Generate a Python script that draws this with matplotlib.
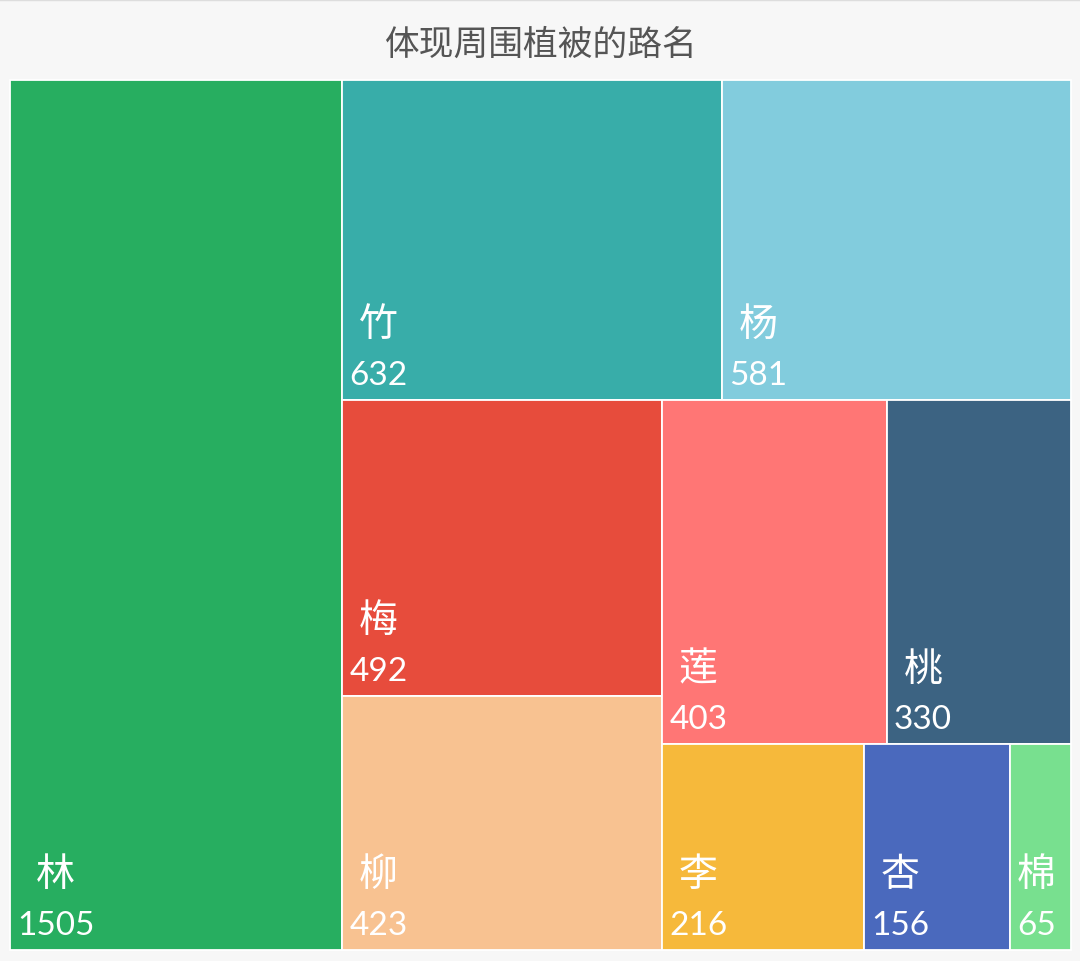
import matplotlib
matplotlib.use("Agg")
import matplotlib.pyplot as plt
from matplotlib.patches import Rectangle

title = "体现周围植被的路名"
names = ["林", "竹", "杨", "梅", "柳", "莲", "桃", "李", "杏", "棉"]
values = [1505, 632, 581, 492, 423, 403, 330, 216, 156, 65]
colors = ["#27ae60", "#38ada9", "#82ccdd", "#e74c3c", "#f8c291",
          "#ff7675", "#3c6382", "#f6b93b", "#4a69bd", "#78e08f"]
# how many cells go in each strip of the treemap
row_sizes = [1, 2, 2, 2, 1, 1, 1]


def treemap(vals, rows, x, y, w, h):
    # lay each strip along the shorter side of what is left
    rects = []
    left = float(sum(vals))
    i = 0
    for n in rows:
        chunk = vals[i:i + n]
        s = sum(chunk)
        if w >= h:
            sw = w * s / left
            yy = y
            for v in chunk:
                hh = h * v / s
                rects.append((x, yy, sw, hh))
                yy += hh
            x += sw
            w -= sw
        else:
            sh = h * s / left
            xx = x
            for v in chunk:
                ww = w * v / s
                rects.append((xx, y, ww, sh))
                xx += ww
            y += sh
            h -= sh
        left -= s
        i += n
    return rects


fig = plt.figure(figsize=(10.8, 9.62), dpi=100)
fig.patch.set_facecolor("#f7f7f7")
ax = fig.add_axes([0, 0, 1, 1])
ax.set_xlim(0, 1080)
ax.set_ylim(962, 0)
ax.axis("off")

ax.axhline(1, color="#dddddd", lw=1)
ax.text(540, 45, title, ha="center", va="center", fontsize=25,
        color="#555555", family=["Noto Sans CJK SC", "DejaVu Sans"])

rects = treemap(values, row_sizes, 10, 80.5, 1061, 870.5)
fig.canvas.draw()
renderer = fig.canvas.get_renderer()
for (x, y, w, h), name, val, c in zip(rects, names, values, colors):
    ax.add_patch(Rectangle((x, y), w, h, facecolor=c, edgecolor="white", lw=1.3))
    t = ax.text(x + 7, y + h - 16, str(val), ha="left", va="baseline",
                fontsize=24, color="white", family=["Lato", "DejaVu Sans"])
    bb = t.get_window_extent(renderer)
    cx = ax.transData.inverted().transform(((bb.x0 + bb.x1) / 2, 0))[0]
    ax.text(cx, y + h - 65, name, ha="center", va="baseline", fontsize=28,
            color="white", family=["Noto Sans CJK SC", "DejaVu Sans"])

fig.savefig("out.png", dpi=100, facecolor=fig.get_facecolor())
